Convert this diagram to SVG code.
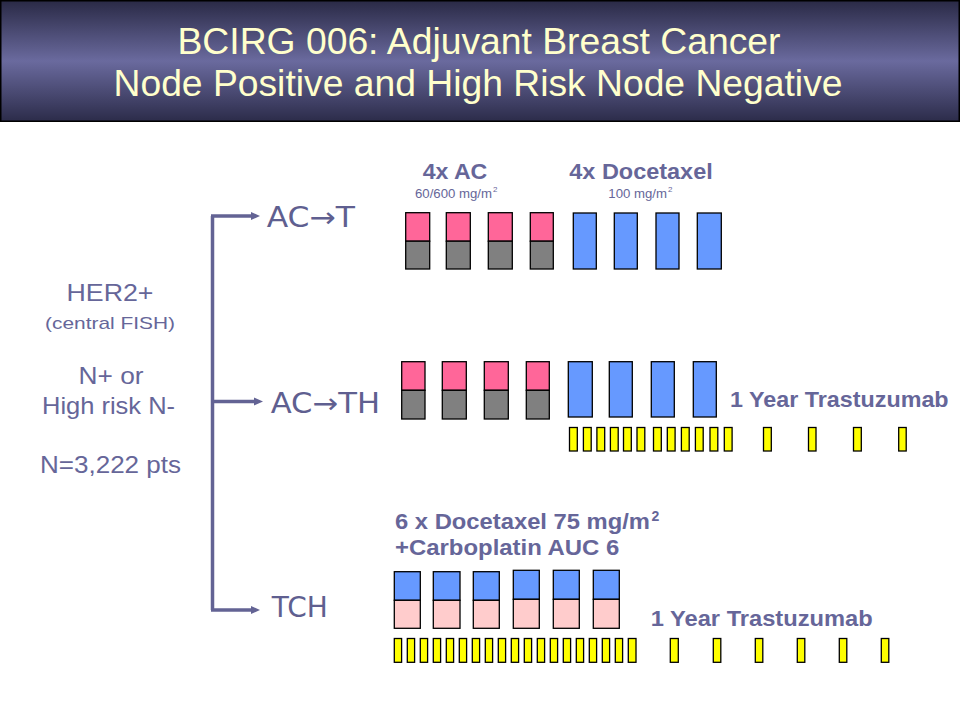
<svg xmlns="http://www.w3.org/2000/svg" width="960" height="720" viewBox="0 0 960 720">
<defs>
<linearGradient id="tg" x1="0" y1="0" x2="0" y2="1">
<stop offset="0" stop-color="#2a2a46"/>
<stop offset="0.5" stop-color="#6a6a9e"/>
<stop offset="1" stop-color="#2c2c4a"/>
</linearGradient>
<marker id="ah" markerUnits="userSpaceOnUse" markerWidth="9" markerHeight="9" refX="1" refY="4.5" orient="auto">
<path d="M0,0.5 L9,4.5 L0,8.5 z" fill="#636394"/>
</marker>
<style>
.title{font-family:"Liberation Sans",Arial,sans-serif;font-size:37px;fill:#FFFFCC;text-anchor:middle}
.lt{font-family:"Liberation Sans",Arial,sans-serif;font-size:24px;fill:#666699;text-anchor:middle}
.br{font-family:"DejaVu Sans",Tahoma,sans-serif;font-size:28px;fill:#5f5f90}
.bl{font-family:"Liberation Sans",Arial,sans-serif;font-size:22px;font-weight:bold;fill:#666699}
.sm{font-family:"Liberation Sans",Arial,sans-serif;font-size:12.5px;fill:#666699}
.ac{fill:#FF6699;stroke:#000;stroke-width:1.3}
.gr{fill:#808080;stroke:#000;stroke-width:1.3}
.bu{fill:#6699FF;stroke:#000;stroke-width:1.3}
.lp{fill:#FFCCCC;stroke:#000;stroke-width:1.3}
.ye{fill:#FFFF00;stroke:#000;stroke-width:1.3}
.cn{stroke:#636394;stroke-width:3.5;fill:none}
</style>
</defs>
<rect width="960" height="720" fill="#fff"/>
<g id="title">
<rect x="0.75" y="0.75" width="958.5" height="120.5" fill="url(#tg)" stroke="#000" stroke-width="1.5"/>
<text class="title" x="479" y="54" textLength="603" lengthAdjust="spacingAndGlyphs">BCIRG 006: Adjuvant Breast Cancer</text>
<text class="title" x="478" y="96" textLength="729" lengthAdjust="spacingAndGlyphs">Node Positive and High Risk Node Negative</text>
</g>
<g id="population">
<text class="lt" x="110" y="301" textLength="87" lengthAdjust="spacingAndGlyphs">HER2+</text>
<text class="lt" x="110" y="329" style="font-size:17px" textLength="130" lengthAdjust="spacingAndGlyphs">(central FISH)</text>
<text class="lt" x="111" y="384" textLength="65" lengthAdjust="spacingAndGlyphs">N+ or</text>
<text class="lt" x="108.5" y="414" textLength="133" lengthAdjust="spacingAndGlyphs">High risk N-</text>
<text class="lt" x="110.5" y="473" textLength="141" lengthAdjust="spacingAndGlyphs">N=3,222 pts</text>
</g>
<g id="connectors">
<path class="cn" d="M212.5,216 V610"/>
<path class="cn" d="M211,216 H252" marker-end="url(#ah)"/>
<path class="cn" d="M214,401.5 H255" marker-end="url(#ah)"/>
<path class="cn" d="M211,610 H252" marker-end="url(#ah)"/>
</g>
<g id="arm-act">
<text class="br" x="266.7" y="227.3" textLength="88.3" lengthAdjust="spacingAndGlyphs">AC→T</text>
<text class="bl" x="422.7" y="179.3" textLength="64.6" lengthAdjust="spacingAndGlyphs">4x AC</text>
<text class="sm" x="415" y="197.7" textLength="77" lengthAdjust="spacingAndGlyphs">60/600 mg/m</text>
<text class="sm" x="493" y="192" style="font-size:8px">2</text>
<text class="bl" x="569.3" y="179.3" textLength="143.4" lengthAdjust="spacingAndGlyphs">4x Docetaxel</text>
<text class="sm" x="608.3" y="197.7" textLength="58.7" lengthAdjust="spacingAndGlyphs">100 mg/m</text>
<text class="sm" x="668" y="192" style="font-size:8px">2</text>
<rect class="ac" x="405.7" y="212.7" width="24" height="28.5"/>
<rect class="gr" x="405.7" y="241.2" width="24" height="27.8"/>
<rect class="ac" x="446.3" y="212.7" width="24" height="28.5"/>
<rect class="gr" x="446.3" y="241.2" width="24" height="27.8"/>
<rect class="ac" x="488.3" y="212.7" width="24" height="28.5"/>
<rect class="gr" x="488.3" y="241.2" width="24" height="27.8"/>
<rect class="ac" x="530.3" y="212.7" width="23" height="28.5"/>
<rect class="gr" x="530.3" y="241.2" width="23" height="27.8"/>
<rect class="bu" x="573.3" y="213" width="23" height="56"/>
<rect class="bu" x="614.3" y="213" width="23" height="56"/>
<rect class="bu" x="656" y="213" width="23" height="56"/>
<rect class="bu" x="697.3" y="213" width="24" height="56"/>
</g>
<g id="arm-acth">
<text class="br" x="270.7" y="413.3" textLength="109.3" lengthAdjust="spacingAndGlyphs">AC→TH</text>
<rect class="ac" x="401.7" y="361.7" width="23.3" height="28.6"/>
<rect class="gr" x="401.7" y="390.3" width="23.3" height="28.7"/>
<rect class="ac" x="442.3" y="361.7" width="24" height="28.6"/>
<rect class="gr" x="442.3" y="390.3" width="24" height="28.7"/>
<rect class="ac" x="484.3" y="361.7" width="24" height="28.6"/>
<rect class="gr" x="484.3" y="390.3" width="24" height="28.7"/>
<rect class="ac" x="526.3" y="361.7" width="23" height="28.6"/>
<rect class="gr" x="526.3" y="390.3" width="23" height="28.7"/>
<rect class="bu" x="568.3" y="361.7" width="24" height="55.3"/>
<rect class="bu" x="609.3" y="361.7" width="23" height="55.3"/>
<rect class="bu" x="651.3" y="361.7" width="23" height="55.3"/>
<rect class="bu" x="693.3" y="361.7" width="23" height="55.3"/>
<text class="bl" x="730" y="407" textLength="218.6" lengthAdjust="spacingAndGlyphs">1 Year Trastuzumab</text>
<rect class="ye" x="569.5" y="427.5" width="7.8" height="23.5"/>
<rect class="ye" x="583.4" y="427.5" width="7.8" height="23.5"/>
<rect class="ye" x="596.9" y="427.5" width="7.8" height="23.5"/>
<rect class="ye" x="610.4" y="427.5" width="7.8" height="23.5"/>
<rect class="ye" x="623.5" y="427.5" width="7.8" height="23.5"/>
<rect class="ye" x="637" y="427.5" width="7.8" height="23.5"/>
<rect class="ye" x="653.5" y="427.5" width="7.8" height="23.5"/>
<rect class="ye" x="667.3" y="427.5" width="7.8" height="23.5"/>
<rect class="ye" x="681.4" y="427.5" width="7.8" height="23.5"/>
<rect class="ye" x="695.4" y="427.5" width="7.8" height="23.5"/>
<rect class="ye" x="710" y="427.5" width="7.8" height="23.5"/>
<rect class="ye" x="724.3" y="427.5" width="7.8" height="23.5"/>
<rect class="ye" x="763.5" y="427.5" width="7.8" height="23.5"/>
<rect class="ye" x="808.5" y="427.5" width="7.5" height="23.5"/>
<rect class="ye" x="853.5" y="427.5" width="7.8" height="23.5"/>
<rect class="ye" x="898.7" y="427.5" width="7.5" height="23.5"/>
</g>
<g id="arm-tch">
<text class="br" x="271.7" y="617.3" textLength="56" lengthAdjust="spacingAndGlyphs">TCH</text>
<text class="bl" x="395" y="528.5" textLength="255" lengthAdjust="spacingAndGlyphs">6 x Docetaxel 75 mg/m</text>
<text class="bl" x="651.5" y="520.5" style="font-size:14px">2</text>
<text class="bl" x="395" y="555" textLength="224.3" lengthAdjust="spacingAndGlyphs">+Carboplatin AUC 6</text>
<rect class="bu" x="394.3" y="571.7" width="26" height="28.6"/>
<rect class="lp" x="394.3" y="600.3" width="26" height="28"/>
<rect class="bu" x="433.3" y="571.7" width="26.7" height="28.6"/>
<rect class="lp" x="433.3" y="600.3" width="26.7" height="28"/>
<rect class="bu" x="473.3" y="571.7" width="26" height="28.6"/>
<rect class="lp" x="473.3" y="600.3" width="26" height="28"/>
<rect class="bu" x="513.3" y="570.3" width="26" height="29"/>
<rect class="lp" x="513.3" y="599.3" width="26" height="29"/>
<rect class="bu" x="553.3" y="570.3" width="26" height="29"/>
<rect class="lp" x="553.3" y="599.3" width="26" height="29"/>
<rect class="bu" x="593.3" y="570.3" width="26" height="29"/>
<rect class="lp" x="593.3" y="599.3" width="26" height="29"/>
<text class="bl" x="650.7" y="626" textLength="222" lengthAdjust="spacingAndGlyphs">1 Year Trastuzumab</text>
<rect class="ye" x="394.3" y="638.5" width="7.3" height="23.8"/>
<rect class="ye" x="407.3" y="638.5" width="7.3" height="23.8"/>
<rect class="ye" x="420.3" y="638.5" width="7.3" height="23.8"/>
<rect class="ye" x="433.3" y="638.5" width="7.3" height="23.8"/>
<rect class="ye" x="446.3" y="638.5" width="7.3" height="23.8"/>
<rect class="ye" x="459.3" y="638.5" width="7.3" height="23.8"/>
<rect class="ye" x="472.3" y="638.5" width="7.3" height="23.8"/>
<rect class="ye" x="485.3" y="638.5" width="7.3" height="23.8"/>
<rect class="ye" x="498.3" y="638.5" width="7.3" height="23.8"/>
<rect class="ye" x="511.3" y="638.5" width="7.3" height="23.8"/>
<rect class="ye" x="524.3" y="638.5" width="7.3" height="23.8"/>
<rect class="ye" x="537.3" y="638.5" width="7.3" height="23.8"/>
<rect class="ye" x="550.3" y="638.5" width="7.3" height="23.8"/>
<rect class="ye" x="563.3" y="638.5" width="7.3" height="23.8"/>
<rect class="ye" x="576.3" y="638.5" width="7.3" height="23.8"/>
<rect class="ye" x="589.3" y="638.5" width="7.3" height="23.8"/>
<rect class="ye" x="602.3" y="638.5" width="7.3" height="23.8"/>
<rect class="ye" x="615.3" y="638.5" width="7.3" height="23.8"/>
<rect class="ye" x="628.3" y="638.5" width="7.7" height="23.8"/>
<rect class="ye" x="670.3" y="638.5" width="8" height="23.8"/>
<rect class="ye" x="713.3" y="638.5" width="7.5" height="23.8"/>
<rect class="ye" x="755.3" y="638.5" width="7.5" height="23.8"/>
<rect class="ye" x="797.3" y="638.5" width="7.5" height="23.8"/>
<rect class="ye" x="839.3" y="638.5" width="7.5" height="23.8"/>
<rect class="ye" x="881.3" y="638.5" width="7.5" height="23.8"/>
</g>
</svg>
